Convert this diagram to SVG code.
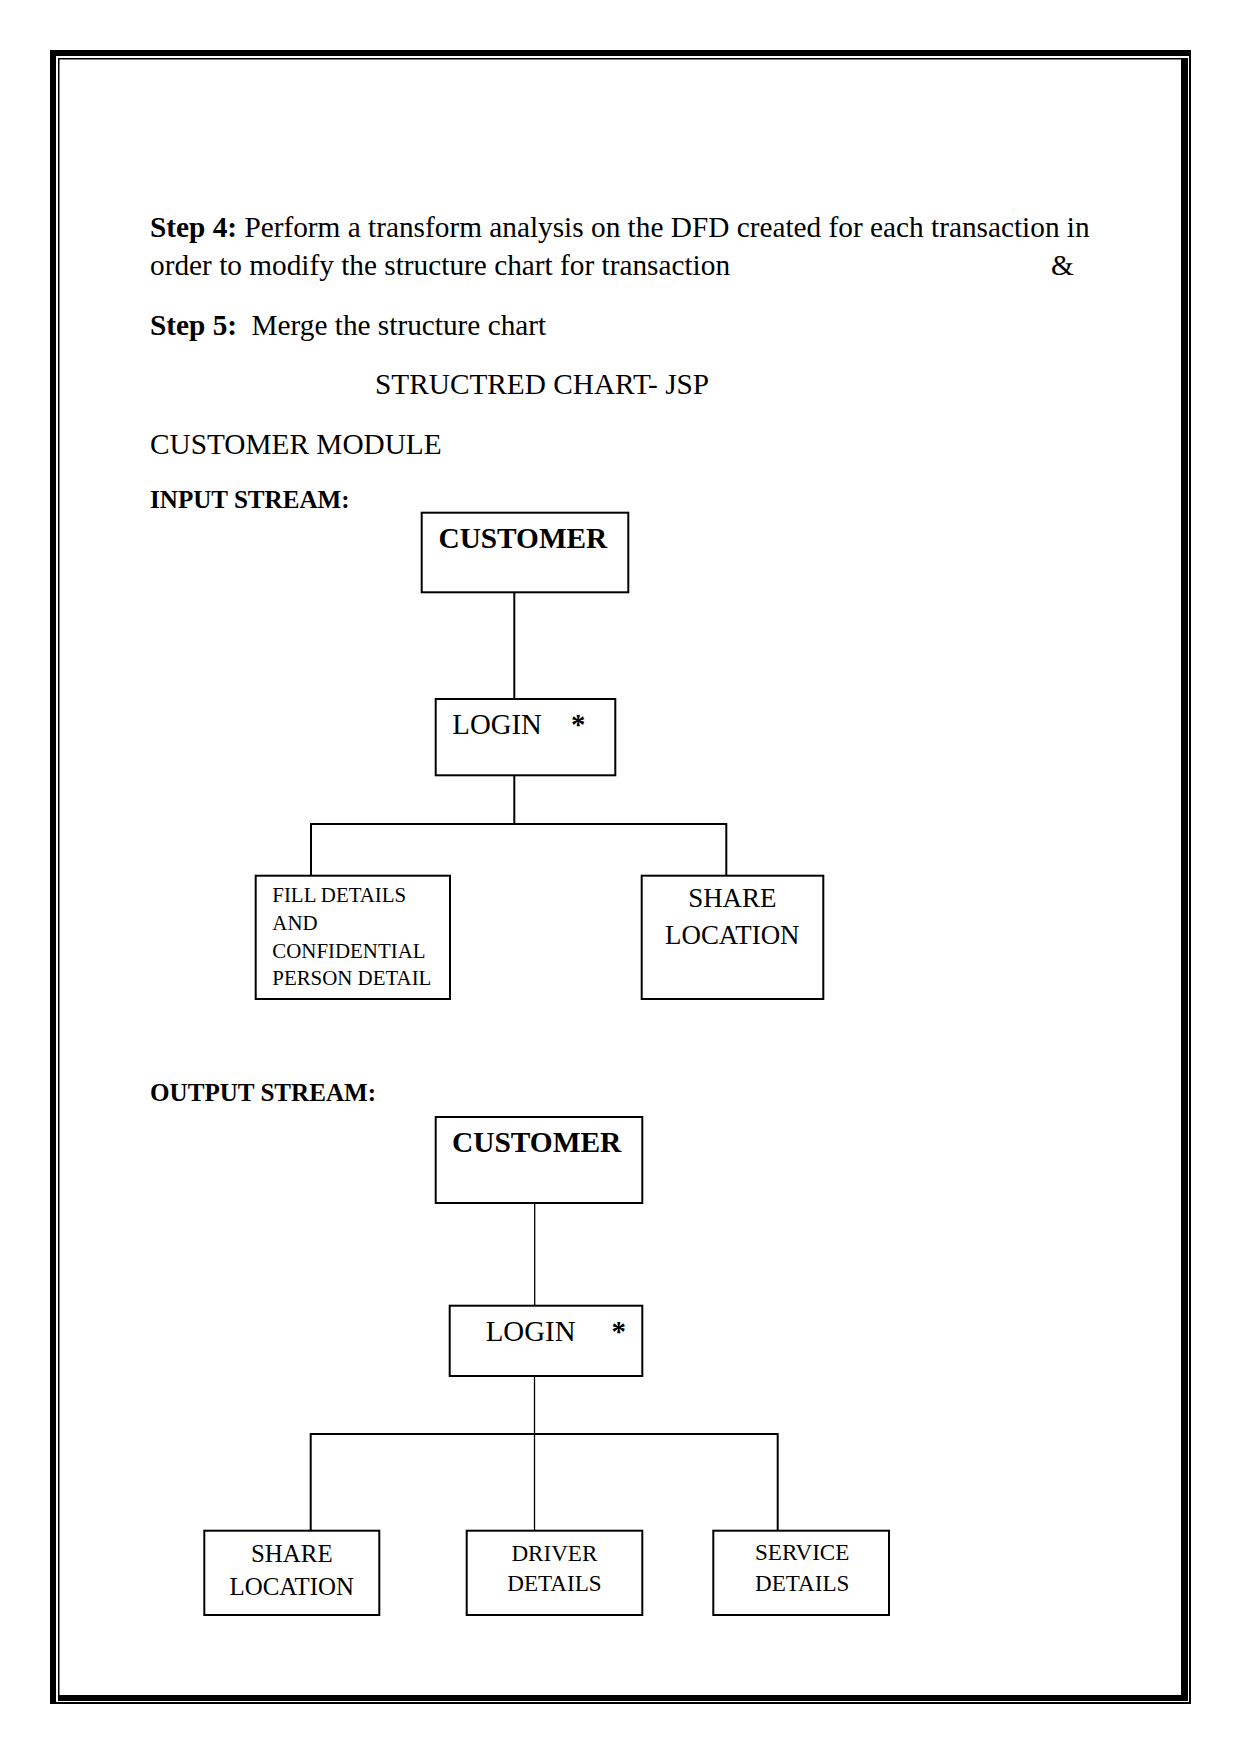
<svg xmlns="http://www.w3.org/2000/svg" width="1241" height="1754" viewBox="0 0 1241 1754">
<style>
text { font-family: "Liberation Serif", "Times New Roman", serif; fill: #000; }
.body { font-size: 29.3px; }
.b { font-weight: bold; }
.hdr { font-size: 25.1px; font-weight: bold; }
.box { fill: #fff; stroke: #000; stroke-width: 2; }
.con { fill: none; stroke: #000; stroke-width: 2; }
.thin { fill: none; stroke: #000; stroke-width: 1.3; }
</style>
<rect x="0" y="0" width="1241" height="1754" fill="#fff"/>
<g id="page-border" fill="#000">
<rect x="50" y="50" width="1141" height="6"/>
<rect x="50" y="50" width="6" height="1654"/>
<rect x="1189" y="50" width="2" height="1654"/>
<rect x="50" y="1702" width="1141" height="2"/>
<rect x="58" y="58" width="1130" height="1.5"/>
<rect x="58" y="58" width="1.5" height="1643"/>
<rect x="1181" y="58" width="7" height="1643"/>
<rect x="58" y="1695" width="1130" height="6"/>
</g>
<g id="text-block">
<text class="body" x="150" y="236.5"><tspan class="b">Step 4:</tspan> Perform a transform analysis on the DFD created for each transaction in</text>
<text class="body" x="150" y="274.5">order to modify the structure chart for transaction</text>
<text class="body" x="1051" y="274.5">&amp;</text>
<text class="body" x="150" y="334.5" font-size="29.4"><tspan class="b">Step 5:</tspan><tspan x="251.5">Merge the structure chart</tspan></text>
<text class="body" x="375" y="393.5" font-size="29.5">STRUCTRED CHART- JSP</text>
<text class="body" x="150" y="453.5" font-size="29.2">CUSTOMER MODULE</text>
<text class="hdr" x="150" y="507.5">INPUT STREAM:</text>
<text class="hdr" x="150" y="1101">OUTPUT STREAM:</text>
</g>
<g id="connectors">
<line class="con" x1="514.3" y1="592.3" x2="514.3" y2="699"/>
<polyline class="con" points="514.3,775.3 514.3,824"/>
<polyline class="con" points="311,875.7 311,824 726.3,824 726.3,875.7"/>
<line class="thin" x1="534.7" y1="1203" x2="534.7" y2="1305.7"/>
<line class="thin" x1="534.5" y1="1376" x2="534.5" y2="1530.7"/>
<polyline class="con" points="310.7,1530.7 310.7,1434 777.7,1434 777.7,1530.7"/>
</g>
<g id="in-customer">
<rect class="box" x="421.7" y="512.7" width="206.6" height="79.6"/>
<text class="b" x="438.5" y="547.7" font-size="29.3">CUSTOMER</text>
</g>
<g id="in-login">
<rect class="box" x="435.7" y="699" width="179.6" height="76.3"/>
<text x="452.3" y="734.3" font-size="28.8">LOGIN</text>
<text class="b" x="571" y="734.3" font-size="28.8">*</text>
</g>
<g id="in-fill-details">
<rect class="box" x="255.7" y="875.7" width="194.3" height="123.3"/>
<text x="272.3" y="902.3" font-size="20.9">FILL DETAILS</text>
<text x="272.3" y="930" font-size="20.9">AND</text>
<text x="272.3" y="957.7" font-size="20.9">CONFIDENTIAL</text>
<text x="272.3" y="985" font-size="20.9">PERSON DETAIL</text>
</g>
<g id="in-share-location">
<rect class="box" x="641.7" y="875.7" width="181.6" height="123.3"/>
<text x="732.3" y="907.3" font-size="26.9" text-anchor="middle">SHARE</text>
<text x="732.3" y="944.3" font-size="26.9" text-anchor="middle">LOCATION</text>
</g>
<g id="out-customer">
<rect class="box" x="435.7" y="1117" width="206.6" height="86"/>
<text class="b" x="452" y="1151.7" font-size="29.4">CUSTOMER</text>
</g>
<g id="out-login">
<rect class="box" x="449.7" y="1305.7" width="192.6" height="70.3"/>
<text x="485.7" y="1341" font-size="28.9">LOGIN</text>
<text class="b" x="611.5" y="1341" font-size="28.9">*</text>
</g>
<g id="out-share-location">
<rect class="box" x="204.3" y="1530.7" width="175" height="84.3"/>
<text x="291.8" y="1561.7" font-size="24.9" text-anchor="middle">SHARE</text>
<text x="291.8" y="1595" font-size="24.9" text-anchor="middle">LOCATION</text>
</g>
<g id="out-driver-details">
<rect class="box" x="466.7" y="1530.7" width="175.6" height="84.3"/>
<text x="554.4" y="1561" font-size="23.1" text-anchor="middle">DRIVER</text>
<text x="554.4" y="1590.7" font-size="23.1" text-anchor="middle">DETAILS</text>
</g>
<g id="out-service-details">
<rect class="box" x="713.3" y="1530.7" width="175.7" height="84.3"/>
<text x="802.2" y="1560" font-size="23.1" text-anchor="middle">SERVICE</text>
<text x="802.2" y="1590.7" font-size="23.1" text-anchor="middle">DETAILS</text>
</g>
</svg>
